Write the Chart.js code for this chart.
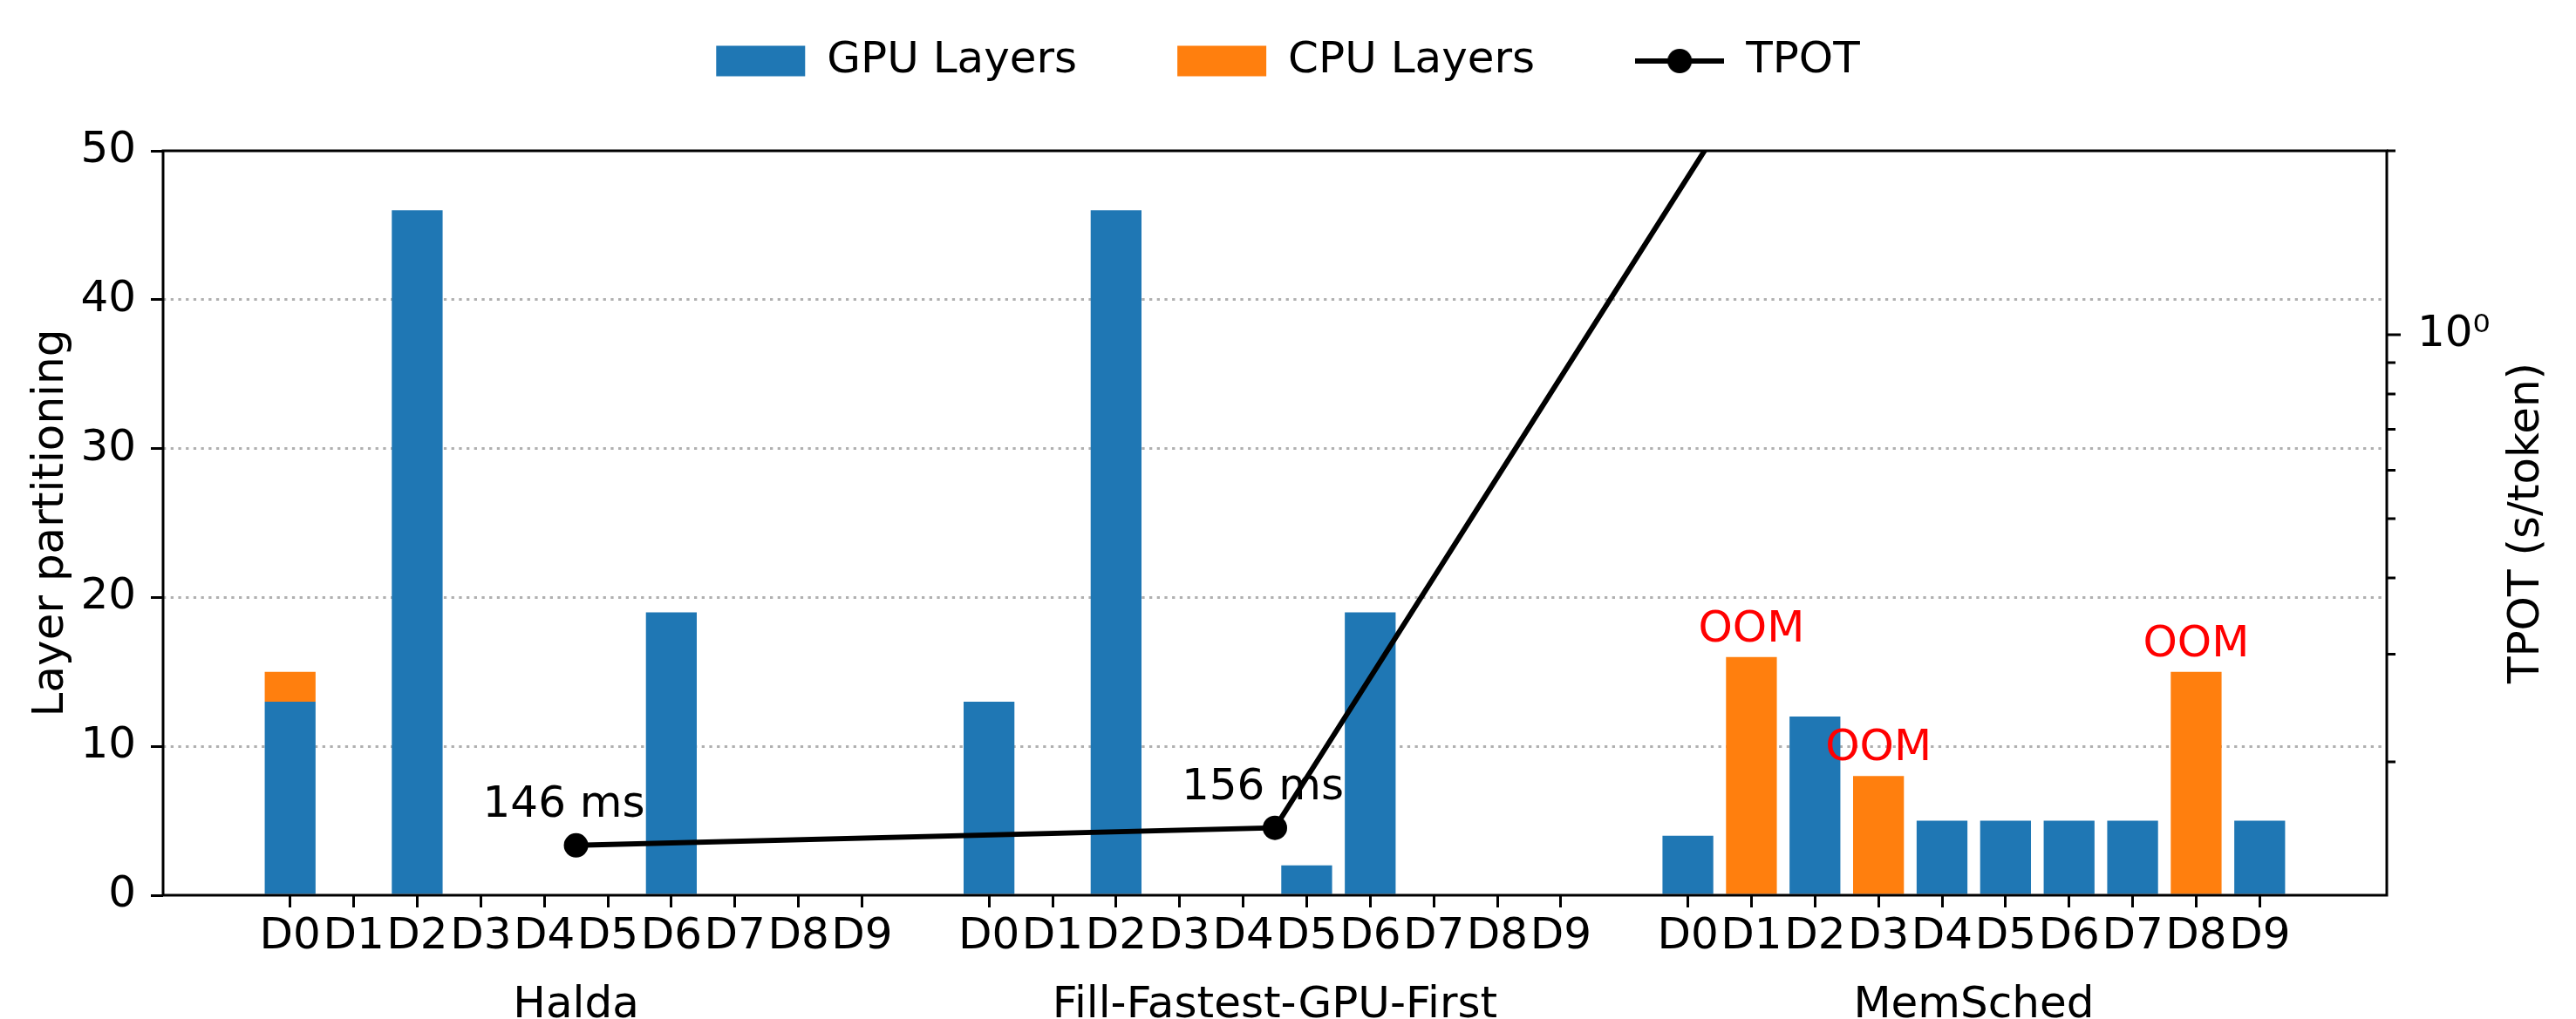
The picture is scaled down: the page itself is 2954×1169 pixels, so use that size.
<!DOCTYPE html>
<html>
<head>
<meta charset="utf-8">
<script src="https://cdn.jsdelivr.net/npm/chart.js@4.4.1/dist/chart.umd.min.js"></script>
<style>
  html, body { margin: 0; padding: 0; background: #fff; }
</style>
</head>
<body>
<canvas id="chart" width="2954" height="1169"></canvas>
<script>
// ——— data ———
var groups = ["Halda", "Fill-Fastest-GPU-First", "MemSched"];
var devices = ["D0", "D1", "D2", "D3", "D4", "D5", "D6", "D7", "D8", "D9"];

var haldaGpu = [13, 0, 46, 0, 0, 0, 19, 0, 0, 0];
var haldaCpu = [2, 0, 0, 0, 0, 0, 0, 0, 0, 0];
var fillGpu  = [13, 0, 46, 0, 0, 2, 19, 0, 0, 0];
var fillCpu  = [0, 0, 0, 0, 0, 0, 0, 0, 0, 0];
var memGpu   = [4, 0, 12, 0, 5, 5, 5, 5, 0, 5];
var memCpu   = [0, 16, 0, 8, 0, 0, 0, 0, 15, 0];
var memOom   = [false, true, false, true, false, false, false, false, true, false];

var tpotSeconds = [0.146, 0.156, 9.9];

var layerTicks = [0, 10, 20, 30, 40, 50];
var tpotTicks = [0.2, 0.3, 0.4, 0.5, 0.6, 0.7, 0.8, 0.9, 1, 2];

// ——— look ———
var FS = 50;
var BLUE = "#1f77b4", ORANGE = "#ff7f0e";
Chart.defaults.font.family = "'DejaVu Sans', sans-serif";
Chart.defaults.font.size = FS;
Chart.defaults.color = "#000";

var slot = devices.length + 1;
function xOf(g, d) { return g * slot + d; }
function centerOf(g) { return g * slot + (devices.length - 1) / 2; }
function toPoints(list) {
  var pts = [];
  list.forEach(function (arr, g) {
    arr.forEach(function (v, d) { pts.push({ x: xOf(g, d), y: v }); });
  });
  return pts;
}
var tickPos = [];
groups.forEach(function (g, gi) { devices.forEach(function (d, di) { tickPos.push(xOf(gi, di)); }); });

// legend icon for the line series: line with a dot
var tpotIcon = document.createElement("canvas");
tpotIcon.width = 102; tpotIcon.height = 32;
(function () {
  var c = tpotIcon.getContext("2d");
  c.strokeStyle = "#000"; c.fillStyle = "#000"; c.lineWidth = 6;
  c.beginPath(); c.moveTo(0, 16); c.lineTo(102, 16); c.stroke();
  c.beginPath(); c.arc(51, 16, 14, 0, Math.PI * 2); c.fill();
})();

var legendBlock = 173, legendShift = -70;

var decor = {
  id: "decor",
  beforeLayout: function (chart) {
    var lg = chart.legend;
    if (!lg || lg._patched) return;
    lg._patched = true;
    var fit = lg.fit, draw = lg._draw;
    lg.fit = function () { fit.call(this); this.height = legendBlock; };
    lg._draw = function () {
      this.ctx.save(); this.ctx.translate(0, legendShift); draw.call(this); this.ctx.restore();
    };
  },
  afterDraw: function (chart) {
    var ctx = chart.ctx, a = chart.chartArea;
    var xs = chart.scales.x, ys = chart.scales.y, y2 = chart.scales.y2;
    ctx.save();

    // frame
    ctx.strokeStyle = "#000";
    ctx.lineWidth = 3;
    ctx.strokeRect(a.left, a.top, a.right - a.left, a.bottom - a.top);

    // log-axis tick marks (major longer than minor)
    ctx.beginPath();
    y2.ticks.forEach(function (t) {
      var py = y2.getPixelForValue(t.value);
      ctx.moveTo(a.right, py);
      ctx.lineTo(a.right + (t.major ? 16 : 10), py);
    });
    ctx.stroke();

    ctx.font = FS + "px 'DejaVu Sans'";
    ctx.textAlign = "center";
    ctx.textBaseline = "alphabetic";

    // TPOT annotations
    ctx.fillStyle = "#000";
    tpotSeconds.forEach(function (v, g) {
      if (v > y2.max) return;
      var px = xs.getPixelForValue(centerOf(g));
      var py = y2.getPixelForValue(v);
      ctx.fillText(Math.round(v * 1000) + " ms", px - 14, py - 33);
    });

    // OOM marks
    ctx.fillStyle = "#ff0000";
    memOom.forEach(function (flag, d) {
      if (!flag) return;
      var px = xs.getPixelForValue(xOf(2, d));
      var py = ys.getPixelForValue(memGpu[d] + memCpu[d]);
      ctx.fillText("OOM", px, py - 18);
    });

    // group names
    ctx.fillStyle = "#000";
    groups.forEach(function (name, g) {
      ctx.fillText(name, xs.getPixelForValue(centerOf(g)), a.bottom + 140);
    });

    // right axis title
    ctx.translate(a.right + 161, (a.top + a.bottom) / 2);
    ctx.rotate(-Math.PI / 2);
    ctx.textBaseline = "middle";
    ctx.fillText("TPOT (s/token)", 0, 0);
    ctx.restore();
  }
};

new Chart(document.getElementById("chart"), {
  type: "bar",
  data: {
    datasets: [
      {
        label: "GPU Layers",
        data: toPoints([haldaGpu, fillGpu, memGpu]),
        backgroundColor: BLUE,
        borderWidth: 0,
        barPercentage: 1,
        categoryPercentage: 0.8,
        yAxisID: "y",
        order: 1
      },
      {
        label: "CPU Layers",
        data: toPoints([haldaCpu, fillCpu, memCpu]),
        backgroundColor: ORANGE,
        borderWidth: 0,
        barPercentage: 1,
        categoryPercentage: 0.8,
        yAxisID: "y",
        order: 1
      },
      {
        type: "line",
        label: "TPOT",
        data: tpotSeconds.map(function (v, g) { return { x: centerOf(g), y: v }; }),
        borderColor: "#000",
        backgroundColor: "#000",
        borderWidth: 6,
        pointRadius: 14,
        pointBorderWidth: 0,
        pointBackgroundColor: "#000",
        tension: 0,
        yAxisID: "y2",
        order: 0
      }
    ]
  },
  options: {
    responsive: false,
    devicePixelRatio: 1,
    animation: false,
    layout: { padding: 0, autoPadding: false },
    plugins: {
      tooltip: { enabled: false },
      legend: {
        position: "top",
        labels: {
          usePointStyle: true,
          pointStyleWidth: 102,
          boxHeight: 35,
          padding: 115,
          font: { size: FS },
          generateLabels: function (chart) {
            var items = Chart.defaults.plugins.legend.labels.generateLabels(chart);
            items.sort(function (p, q) { return p.datasetIndex - q.datasetIndex; });
            items.forEach(function (it) {
              if (it.datasetIndex === 2) { it.pointStyle = tpotIcon; }
              else { it.pointStyle = "rect"; it.lineWidth = 0; }
            });
            return items;
          }
        }
      }
    },
    scales: {
      x: {
        type: "linear",
        min: -2,
        max: 33,
        stacked: true,
        offset: false,
        afterBuildTicks: function (scale) {
          scale.ticks = tickPos.map(function (v) { return { value: v }; });
        },
        afterFit: function (scale) { scale.height = 142; },
        grid: { drawOnChartArea: false, offset: false, tickLength: 14, tickWidth: 3, tickColor: "#000" },
        border: { display: false },
        ticks: {
          autoSkip: false,
          maxRotation: 0,
          minRotation: 0,
          padding: 4,
          callback: function (value) { return devices[value % slot]; }
        }
      },
      y: {
        position: "left",
        min: 0,
        max: 50,
        stacked: true,
        afterBuildTicks: function (scale) {
          scale.ticks = layerTicks.map(function (v) { return { value: v }; });
        },
        afterFit: function (scale) { scale.width = 187; },
        grid: {
          lineWidth: 3,
          color: function (c) {
            var v = c.tick ? c.tick.value : null;
            return (v === 0 || v === 50) ? "rgba(0,0,0,0)" : "#b0b0b0";
          },
          tickLength: 14,
          tickWidth: 3,
          tickColor: "#000"
        },
        border: { display: false, dash: [3.3, 5.4] },
        ticks: { padding: 17, autoSkip: false },
        title: { display: true, text: "Layer partitioning", padding: { top: 29, bottom: 0 } }
      },
      y2: {
        type: "logarithmic",
        position: "right",
        min: 0.121,
        max: 2.0,
        afterBuildTicks: function (scale) {
          scale.ticks = tpotTicks.map(function (v) { return { value: v, major: v === 1 }; });
        },
        afterFit: function (scale) { scale.width = 217; },
        grid: { drawOnChartArea: false, drawTicks: false },
        border: { display: false },
        ticks: {
          padding: 35,
          autoSkip: false,
          callback: function (value) { return value === 1 ? "10\u2070" : ""; }
        }
      }
    }
  },
  plugins: [decor]
});
</script>
</body>
</html>
